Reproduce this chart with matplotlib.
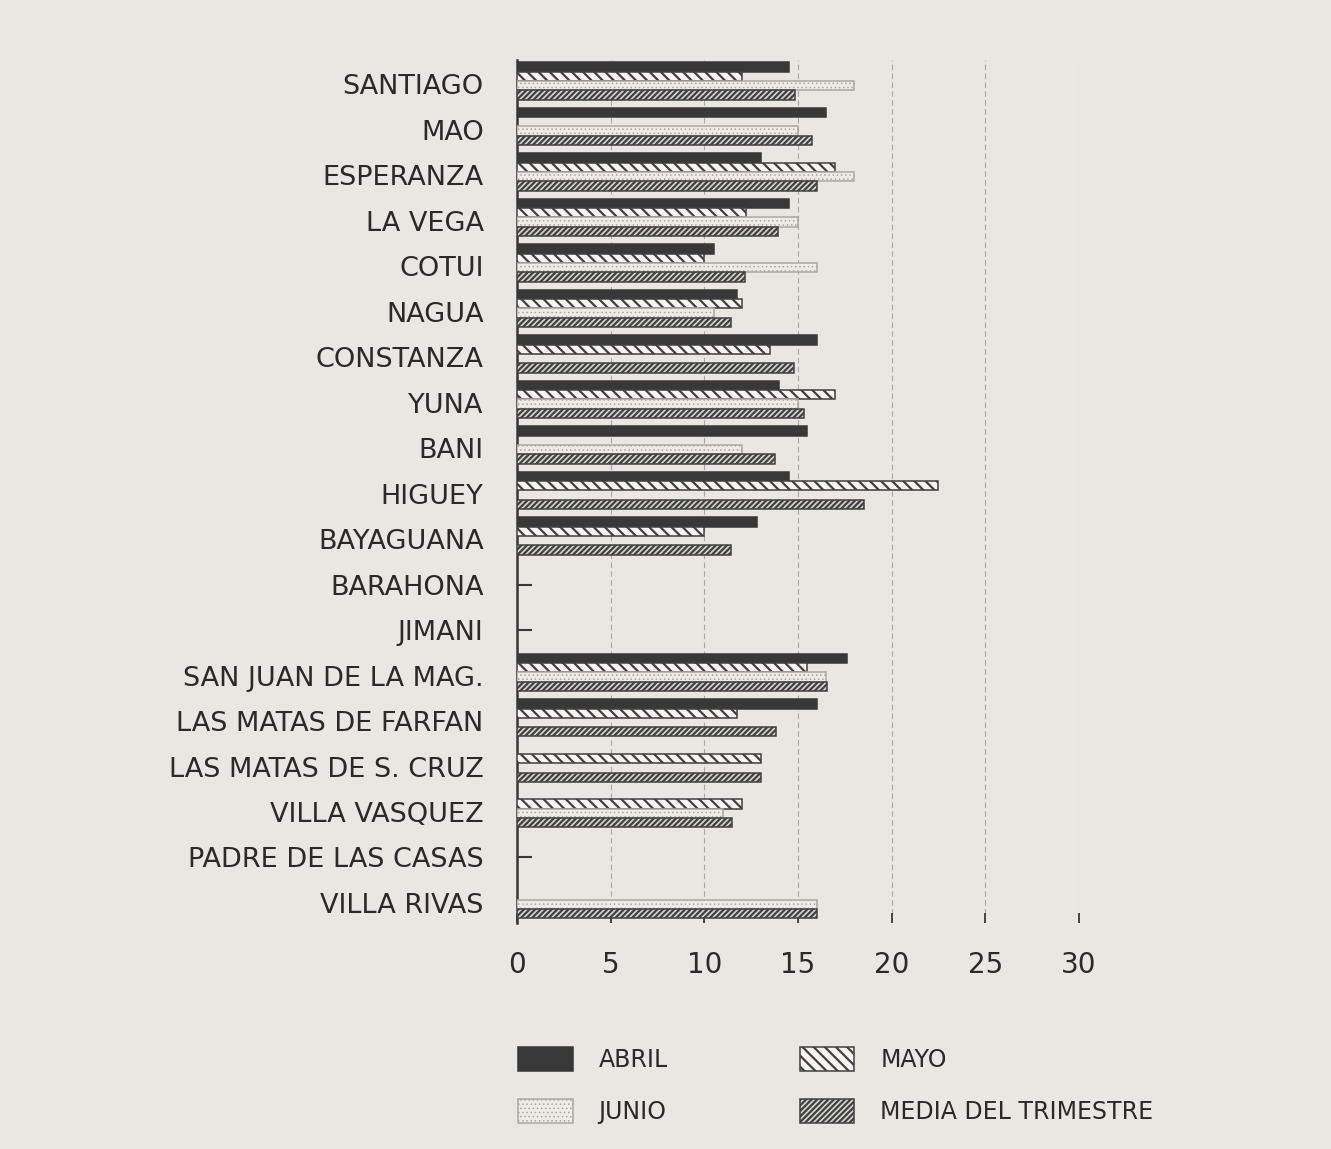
import numpy as np
import matplotlib
matplotlib.use("Agg")
import matplotlib.pyplot as plt
from matplotlib.patches import Patch

nan = np.nan

municipios = ["SANTIAGO", "MAO", "ESPERANZA", "LA VEGA", "COTUI", "NAGUA",
              "CONSTANZA", "YUNA", "BANI", "HIGUEY", "BAYAGUANA", "BARAHONA",
              "JIMANI", "SAN JUAN DE LA MAG.", "LAS MATAS DE FARFAN",
              "LAS MATAS DE S. CRUZ", "VILLA VASQUEZ", "PADRE DE LAS CASAS",
              "VILLA RIVAS"]

abril = [14.5, 16.5, 13, 14.5, 10.5, 11.75, 16, 14, 15.5, 14.5, 12.8,
         nan, nan, 17.6, 16, nan, nan, nan, nan]
mayo = [12, nan, 17, 12.25, 10, 12, 13.5, 17, nan, 22.5, 10,
        nan, nan, 15.5, 11.75, 13, 12, nan, nan]
junio = [18, 15, 18, 15, 16, 10.5, nan, 15, 12, nan, nan,
         nan, nan, 16.5, nan, nan, 11, nan, 16]
media = [14.83, 15.75, 16, 13.92, 12.17, 11.42, 14.8, 15.33, 13.75, 18.5, 11.4,
         nan, nan, 16.55, 13.85, 13, 11.5, nan, 16]

x_ticks = [0, 5, 10, 15, 20, 25, 30]

BG = "#e9e7e2"
INK = "#383838"

plt.rcParams["hatch.linewidth"] = 1.6

fig = plt.figure(figsize=(13.31, 11.49), dpi=100, facecolor=BG)
ax = fig.add_axes([517 / 1331, 1 - 923 / 1149, (1079 - 517) / 1331, (923 - 60) / 1149])
ax.set_facecolor(BG)

y = np.arange(len(municipios))
h = 0.205
series = [
    ("ABRIL", abril, dict(facecolor=INK, edgecolor=INK)),
    ("MAYO", mayo, dict(facecolor="#f6f5f1", edgecolor="#404040", hatch="\\\\\\")),
    ("JUNIO", junio, dict(facecolor="#edebe6", edgecolor="#a9a8a3", hatch="....")),
    ("MEDIA DEL TRIMESTRE", media, dict(facecolor="#d5d4cf", edgecolor="#404040", hatch="//////")),
]
handles = []
for i, (name, vals, style) in enumerate(series):
    off = (i - 1.5) * h - 0.07
    bars = ax.barh(y + off, vals, height=h, linewidth=1.1, zorder=3, **style)
    if name == "JUNIO":
        for b in bars:
            if hasattr(b, "set_hatch_linewidth"):
                b.set_hatch_linewidth(0.6)
    handles.append(Patch(label=name, linewidth=1.1, **style))

ax.set_xlim(0, 30)
ax.set_ylim(18.44, -0.53)
ax.set_yticks(y)
ax.set_yticklabels(municipios, fontsize=19.5, color="#2a2a2a")
ax.set_xticks(x_ticks)
ax.set_xticklabels([str(t) for t in x_ticks], fontsize=20, color="#2a2a2a")

# short dash on the axis for municipios without data
sin_datos = [k for k in y if all(np.isnan(s[1][k]) for s in series)]
ax.yaxis.remove_overlapping_locs = False
ax.set_yticks(sin_datos, minor=True)
ax.tick_params(axis="y", which="major", length=0, pad=24)
ax.tick_params(axis="y", which="minor", direction="in", length=11, width=1.5, color=INK)
ax.tick_params(axis="x", direction="in", length=7, width=1.3, color=INK, pad=20)

for s in ["top", "right", "bottom"]:
    ax.spines[s].set_visible(False)
ax.spines["left"].set_color(INK)
ax.spines["left"].set_linewidth(1.8)

ax.set_axisbelow(True)
ax.grid(axis="x", color="#8f8f8f", linewidth=0.8, linestyle=(0, (5, 3)), alpha=0.7)
ax.grid(axis="y", visible=False)

# order so the legend reads ABRIL / MAYO on the first row
leg_order = [handles[0], handles[2], handles[1], handles[3]]
leg = fig.legend(handles=leg_order, loc="upper left",
                 bbox_to_anchor=(497 / 1331, 1 - 1026 / 1149), ncol=2, frameon=False,
                 fontsize=17, handlelength=2.3, handleheight=1.15, handletextpad=1.1,
                 columnspacing=5.6, labelspacing=1.15, labelcolor="#2a2a2a")
for p in leg.get_patches():
    if p.get_label() == "JUNIO" and hasattr(p, "set_hatch_linewidth"):
        p.set_hatch_linewidth(0.6)

fig.savefig("out.png", dpi=100, facecolor=BG)
